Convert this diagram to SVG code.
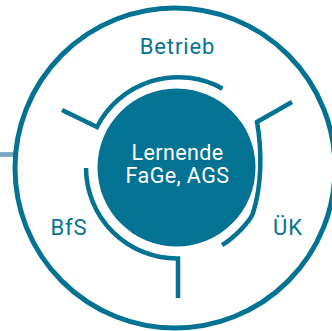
<svg xmlns="http://www.w3.org/2000/svg" width="332" height="331" viewBox="0 0 332 331">
<style>
.ring{fill:none;stroke:#047393;stroke-width:5}
.wall{fill:none;stroke:#047393;stroke-width:4.5;stroke-linejoin:miter}
.lbl{font-family:Roboto,"Liberation Sans",Arial,sans-serif;font-weight:400;font-size:22px;letter-spacing:0.9px;fill:#047393;text-anchor:middle}
.ctr{font-family:Roboto,"Liberation Sans",Arial,sans-serif;font-weight:400;font-size:21.5px;letter-spacing:0.4px;fill:#ffffff;text-anchor:middle}
</style>
<rect width="332" height="331" fill="#ffffff"/>
<g id="connectors">
<line x1="0" y1="154.5" x2="15" y2="154.5" stroke="#79a7c3" stroke-width="4.8"/>
</g>
<g id="outer">
<circle class="ring" cx="175" cy="168" r="160"/>
</g>
<g id="betrieb">
<path class="wall" d="M62,110 L97,127 A91,91 0 0 1 222.5,88.7"/>
<text class="lbl" x="177.5" y="54">Betrieb</text>
</g>
<g id="uek">
<path class="wall" d="M292,102 L257,122 C262,150 262,185 253,213 C250,222 232,239.5 222,245"/>
<text class="lbl" x="288" y="235">ÜK</text>
</g>
<g id="bfs">
<path class="wall" d="M178,298 L178,258.5 A91,91 0 0 1 86,168"/>
<text class="lbl" x="69" y="235">BfS</text>
</g>
<g id="lernende">
<circle cx="176.5" cy="167.5" r="79" fill="#047393"/>
<text class="ctr" x="177.5" y="160">Lernende</text>
<text class="ctr" x="177.5" y="183">FaGe, AGS</text>
</g>
</svg>
